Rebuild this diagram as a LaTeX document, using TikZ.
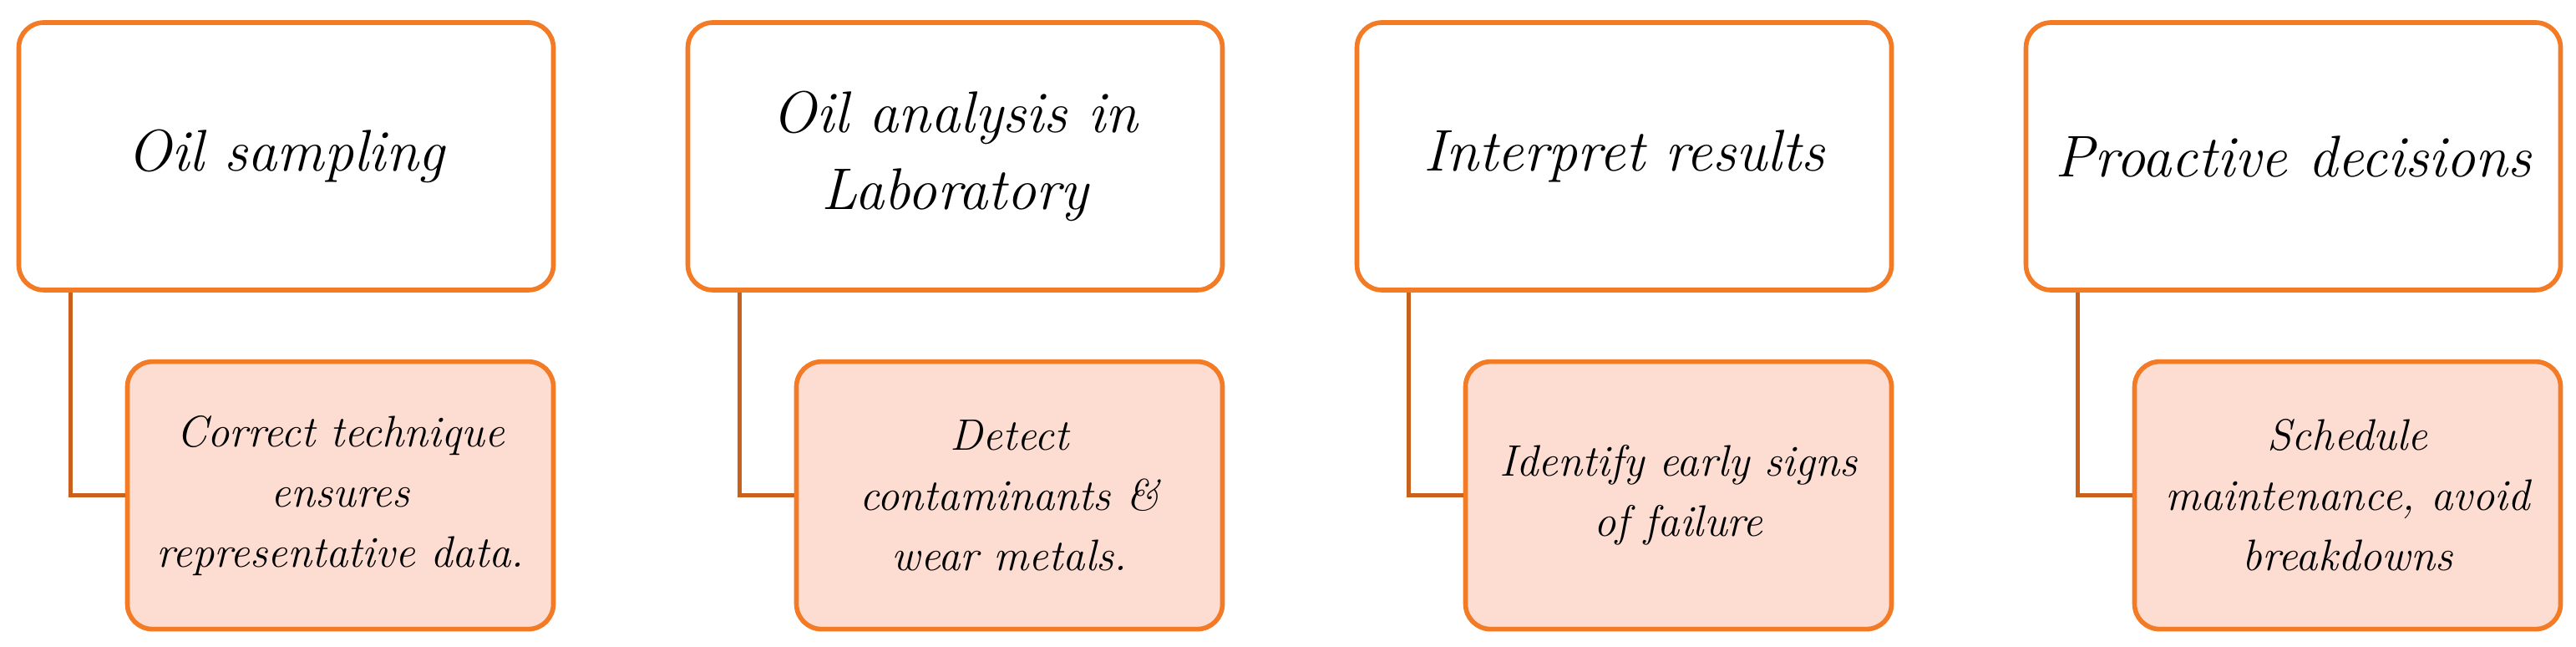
\documentclass[tikz,border=0pt]{standalone}
\usetikzlibrary{positioning}
\definecolor{oilorange}{HTML}{F47B25}
\definecolor{oildark}{HTML}{C9601C}
\definecolor{oilpeach}{HTML}{FDDCD2}
\tikzset{
  headbox/.style  = {rectangle, draw=oilorange, fill=white, line width=1.6pt, rounded corners=0.3cm,
                      minimum width=6.4cm, minimum height=3.2cm, inner sep=2pt, align=center,
                      font=\fontsize{20}{26}\selectfont\itshape},
  notebox/.style  = {rectangle, draw=oilorange, fill=oilpeach, line width=1.6pt, rounded corners=0.3cm,
                      minimum width=5.1cm, minimum height=3.2cm, inner sep=2pt, align=center,
                      font=\fontsize{15}{20.5}\selectfont\itshape},
  notelink/.style = {draw=oildark, line width=1.4pt},
}
\begin{document}
\begin{tikzpicture}
\useasboundingbox (0,0) rectangle (30.84,7.74);
% four stages, each a heading box with its note hanging below
\foreach \i/\head/\note in {
    1/{Oil sampling}/{Correct technique\\ensures\\representative data.},
    2/{Oil analysis in\\Laboratory}/{Detect\\contaminants \&\\wear metals.},
    3/{Interpret results}/{Identify early signs\\of failure},
    4/{Proactive decisions}/{Schedule\\maintenance, avoid\\breakdowns}} {
  \pgfmathsetmacro{\xx}{3.425+8.01*(\i-1)}
  \node[headbox] (head\i) at (\xx,5.87) {\head};
  \node[notebox, below left=0.8cm and 0cm of head\i.south east, anchor=north east] (note\i) {\note};
  \draw[notelink] ([xshift=0.65cm]head\i.south west) |- (note\i.west);
}
\end{tikzpicture}
\end{document}
